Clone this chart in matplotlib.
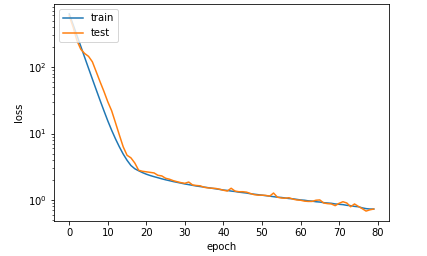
import numpy as np
import matplotlib
matplotlib.use('Agg')
import matplotlib.pyplot as plt

# loss per epoch
train_loss = [630, 435, 298, 205, 140, 96, 66, 45.5, 31.5, 22,
              15.5, 11.2, 8.3, 6.3, 4.9, 3.95, 3.3, 2.95, 2.75, 2.58,
              2.44, 2.33, 2.24, 2.16, 2.08, 2.01, 1.95, 1.89, 1.84, 1.79,
              1.74, 1.70, 1.66, 1.62, 1.59, 1.56, 1.53, 1.50, 1.47, 1.44,
              1.41, 1.39, 1.36, 1.34, 1.31, 1.29, 1.27, 1.24, 1.22, 1.20,
              1.18, 1.16, 1.14, 1.12, 1.10, 1.09, 1.07, 1.05, 1.04, 1.02,
              1.00, 0.99, 0.97, 0.96, 0.94, 0.93, 0.91, 0.90, 0.89, 0.87,
              0.86, 0.85, 0.83, 0.82, 0.80, 0.79, 0.76, 0.74, 0.73, 0.73]
test_loss = [590, 400, 250, 185, 160, 145, 120, 85, 60, 43,
             30, 22, 14.5, 9.5, 6.3, 4.7, 4.3, 3.6, 2.8, 2.7,
             2.65, 2.6, 2.55, 2.35, 2.3, 2.12, 2.05, 1.95, 1.88, 1.82,
             1.78, 1.86, 1.68, 1.65, 1.63, 1.55, 1.52, 1.50, 1.49, 1.45,
             1.40, 1.36, 1.50, 1.36, 1.33, 1.33, 1.31, 1.25, 1.20, 1.18,
             1.18, 1.17, 1.14, 1.27, 1.10, 1.07, 1.06, 1.08, 1.03, 1.00,
             0.99, 0.96, 0.95, 0.95, 0.99, 1.00, 0.90, 0.88, 0.87, 0.82,
             0.89, 0.94, 0.90, 0.79, 0.87, 0.80, 0.74, 0.68, 0.71, 0.73]
epochs = np.arange(len(train_loss))

fig = plt.figure(figsize=(427 / 72, 256 / 72), dpi=72)
ax = fig.add_axes([0.1265, 0.137, 0.7845, 0.847])

ax.plot(epochs, train_loss, label='train')
ax.plot(epochs, test_loss, label='test')
ax.set_yscale('log')
ax.set_xlabel('epoch')
ax.set_ylabel('loss')
ax.legend(loc='upper left')

fig.savefig('out.png', dpi=72)
